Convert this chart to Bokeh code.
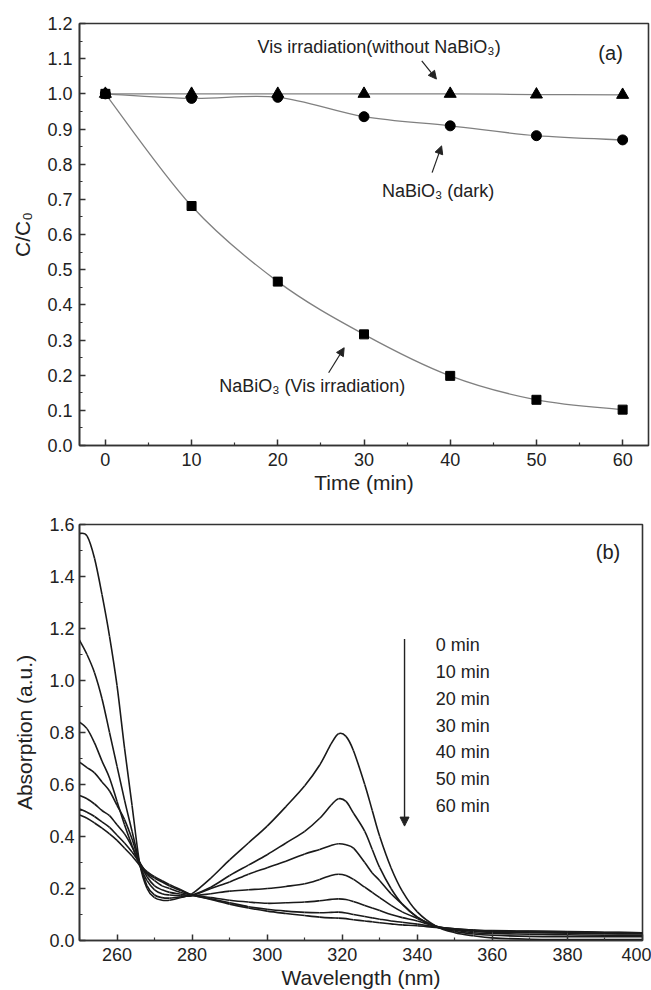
import numpy as np
from bokeh.plotting import figure
from bokeh.layouts import column
from bokeh.models import (FixedTicker, PrintfTickFormatter, Arrow,
                          NormalHead, Range1d)
from bokeh.core.properties import value
from bokeh.embed import file_html
from bokeh.resources import INLINE

# ---------------- data: panel (a) ----------------
time_min = [0, 10, 20, 30, 40, 50, 60]
vis_without_nabio3 = [1.0, 1.0, 1.0, 1.0, 1.0, 0.998, 0.997]
nabio3_dark = [1.0, 0.987, 0.99, 0.935, 0.909, 0.881, 0.869]
nabio3_vis = [1.0, 0.681, 0.466, 0.316, 0.198, 0.130, 0.102]
time_ticks = [0, 10, 20, 30, 40, 50, 60]
time_minor = [-5, 5, 15, 25, 35, 45, 55]
ratio_ticks = [0.0, 0.1, 0.2, 0.3, 0.4, 0.5, 0.6, 0.7, 0.8, 0.9, 1.0, 1.1, 1.2]
ratio_minor = [0.05, 0.15, 0.25, 0.35, 0.45, 0.55, 0.65, 0.75, 0.85, 0.95, 1.05, 1.15]

# ---------------- data: panel (b) ----------------
wavelength = [250, 252, 254, 256, 258, 260, 262, 264, 266, 268, 270, 272, 274,
              277, 280, 285, 290, 295, 300, 305, 310, 314, 317, 319, 321, 323,
              326, 328, 330, 333, 336, 340, 345, 350, 355, 360, 370, 380, 390, 400]
abs_0min = [1.566, 1.556, 1.47, 1.33, 1.17, 0.98, 0.74, 0.52, 0.30, 0.20, 0.165,
            0.155, 0.155, 0.165, 0.18, 0.24, 0.31, 0.375, 0.44, 0.515, 0.595,
            0.675, 0.755, 0.795, 0.785, 0.73, 0.60, 0.50, 0.40, 0.28, 0.19, 0.11,
            0.055, 0.03, 0.018, 0.01, 0.005, 0.004, 0.004, 0.004]
abs_10min = [1.155, 1.10, 1.03, 0.93, 0.80, 0.67, 0.54, 0.42, 0.30, 0.21, 0.175,
             0.165, 0.163, 0.168, 0.175, 0.205, 0.25, 0.29, 0.33, 0.375, 0.42,
             0.47, 0.52, 0.545, 0.535, 0.49, 0.42, 0.35, 0.28, 0.20, 0.14, 0.09,
             0.055, 0.035, 0.025, 0.02, 0.016, 0.015, 0.015, 0.015]
abs_20min = [0.84, 0.815, 0.76, 0.69, 0.625, 0.535, 0.445, 0.365, 0.29, 0.23,
             0.195, 0.18, 0.175, 0.172, 0.172, 0.20, 0.225, 0.255, 0.28, 0.305,
             0.333, 0.35, 0.365, 0.372, 0.368, 0.355, 0.30, 0.26, 0.23, 0.18,
             0.14, 0.09, 0.052, 0.04, 0.03, 0.027, 0.024, 0.022, 0.02, 0.02]
abs_30min = [0.686, 0.665, 0.645, 0.61, 0.575, 0.52, 0.465, 0.39, 0.30, 0.245,
             0.21, 0.195, 0.185, 0.178, 0.172, 0.18, 0.19, 0.195, 0.20, 0.208,
             0.218, 0.235, 0.25, 0.255, 0.25, 0.235, 0.205, 0.185, 0.165, 0.135,
             0.11, 0.085, 0.055, 0.042, 0.035, 0.032, 0.03, 0.028, 0.026, 0.025]
abs_40min = [0.558, 0.545, 0.525, 0.50, 0.48, 0.445, 0.41, 0.36, 0.30, 0.255,
             0.23, 0.21, 0.20, 0.185, 0.175, 0.165, 0.155, 0.148, 0.143, 0.145,
             0.148, 0.153, 0.158, 0.16, 0.158, 0.15, 0.135, 0.125, 0.115, 0.10,
             0.088, 0.075, 0.055, 0.044, 0.038, 0.035, 0.033, 0.031, 0.03, 0.028]
abs_50min = [0.506, 0.493, 0.477, 0.456, 0.435, 0.405, 0.375, 0.34, 0.30, 0.26,
             0.24, 0.225, 0.21, 0.192, 0.175, 0.16, 0.145, 0.13, 0.12, 0.113,
             0.108, 0.107, 0.108, 0.109, 0.106, 0.10, 0.092, 0.087, 0.082, 0.075,
             0.07, 0.063, 0.052, 0.045, 0.04, 0.037, 0.035, 0.033, 0.031, 0.03]
abs_60min = [0.483, 0.47, 0.452, 0.432, 0.41, 0.385, 0.355, 0.325, 0.29, 0.265,
             0.245, 0.23, 0.215, 0.195, 0.175, 0.158, 0.14, 0.125, 0.113, 0.104,
             0.096, 0.09, 0.087, 0.086, 0.084, 0.08, 0.075, 0.072, 0.068, 0.064,
             0.06, 0.057, 0.05, 0.045, 0.04, 0.038, 0.036, 0.034, 0.032, 0.03]
spectra = [abs_0min, abs_10min, abs_20min, abs_30min, abs_40min, abs_50min, abs_60min]
time_labels = ["0 min", "10 min", "20 min", "30 min", "40 min", "50 min", "60 min"]
wl_ticks = [260, 280, 300, 320, 340, 360, 380, 400]
wl_minor = [250, 270, 290, 310, 330, 350, 370, 390]
abs_ticks = [0.0, 0.2, 0.4, 0.6, 0.8, 1.0, 1.2, 1.4, 1.6]
abs_minor = [0.1, 0.3, 0.5, 0.7, 0.9, 1.1, 1.3, 1.5]

FONT = "Liberation Sans"
INK = "#222222"
AX = "#333333"


def style(p):
    p.background_fill_color = "white"
    p.border_fill_color = "white"
    p.outline_line_color = AX
    p.outline_line_width = 1.6
    p.grid.visible = False
    for ax in (p.xaxis[0], p.yaxis[0]):
        ax.axis_line_color = AX
        ax.axis_line_width = 1.6
        ax.major_tick_line_color = AX
        ax.minor_tick_line_color = AX
        ax.major_tick_line_width = 1.5
        ax.minor_tick_line_width = 1.2
        ax.major_tick_in = 6
        ax.major_tick_out = 0
        ax.minor_tick_in = 3
        ax.minor_tick_out = 0
        ax.major_label_text_font = FONT
        ax.major_label_text_font_size = "18px"
        ax.major_label_text_color = INK
        ax.axis_label_text_font = FONT
        ax.axis_label_text_font_size = "21px"
        ax.axis_label_text_font_style = "normal"
        ax.axis_label_text_color = INK


def catmull_bezier(xs, ys):
    n = len(xs)
    out = dict(x0=[], y0=[], x1=[], y1=[], cx0=[], cy0=[], cx1=[], cy1=[])
    for i in range(n - 1):
        a = i - 1 if i > 0 else i
        d = i + 2 if i + 2 < n else i + 1
        out["x0"].append(xs[i]); out["y0"].append(ys[i])
        out["x1"].append(xs[i + 1]); out["y1"].append(ys[i + 1])
        out["cx0"].append(xs[i] + (xs[i + 1] - xs[a]) / 6.0)
        out["cy0"].append(ys[i] + (ys[i + 1] - ys[a]) / 6.0)
        out["cx1"].append(xs[i + 1] - (xs[d] - xs[i]) / 6.0)
        out["cy1"].append(ys[i + 1] - (ys[d] - ys[i]) / 6.0)
    return out


# ---------------- panel (a) ----------------
p1 = figure(frame_width=569, frame_height=422,
            x_range=Range1d(-3, 63), y_range=Range1d(0, 1.2),
            output_backend="svg", toolbar_location=None,
            min_border_left=79, min_border_right=3, min_border_top=23,
            min_border_bottom=55)
style(p1)
p1.xaxis.ticker = FixedTicker(ticks=time_ticks, minor_ticks=time_minor)
p1.yaxis.ticker = FixedTicker(ticks=ratio_ticks, minor_ticks=ratio_minor)
p1.yaxis.formatter = PrintfTickFormatter(format="%.1f")
p1.xaxis.axis_label = "Time (min)"
p1.yaxis.axis_label = "C/C\u2080"
p1.xaxis.major_label_standoff = 7
p1.yaxis.major_label_standoff = 7
p1.xaxis.axis_label_standoff = 2
p1.yaxis.axis_label_standoff = 10

for series in (vis_without_nabio3, nabio3_dark, nabio3_vis):
    p1.bezier(line_color="#808080", line_width=1.3, **catmull_bezier(time_min, series))

p1.scatter(time_min, vis_without_nabio3, marker="triangle", size=12, color="black")
p1.scatter(time_min, nabio3_dark, marker="circle", size=10, color="black")
p1.scatter(time_min, nabio3_vis, marker="square", size=9, color="black")

txt_a = dict(text_font=value(FONT), text_font_size="18px", text_color=INK,
             text_align="center", text_baseline="middle")
p1.text(x=[31.75], y=[1.132], text=["Vis irradiation(without NaBiO\u2083)"], **txt_a)
p1.text(x=[38.6], y=[0.724], text=["NaBiO\u2083 (dark)"], **txt_a)
p1.text(x=[24.0], y=[0.169], text=["NaBiO\u2083 (Vis irradiation)"], **txt_a)
p1.text(x=[58.6], y=[1.117], text=["(a)"], text_font=value(FONT),
        text_font_size="20px", text_color=INK, text_align="center",
        text_baseline="middle")

for (xs, ys, xe, ye) in [(36.7, 1.094, 38.4, 1.042),
                         (37.9, 0.776, 39.0, 0.852),
                         (25.9, 0.207, 27.7, 0.278)]:
    p1.add_layout(Arrow(x_start=xs, y_start=ys, x_end=xe, y_end=ye,
                        line_color=INK, line_width=1.2,
                        end=NormalHead(size=8, fill_color=INK, line_color=INK)))

# ---------------- panel (b) ----------------
p2 = figure(frame_width=563, frame_height=416,
            x_range=Range1d(250, 400), y_range=Range1d(0, 1.6),
            output_backend="svg", toolbar_location=None,
            min_border_left=75, min_border_right=13, min_border_top=24,
            min_border_bottom=50)
style(p2)
p2.xaxis.ticker = FixedTicker(ticks=wl_ticks, minor_ticks=wl_minor)
p2.yaxis.ticker = FixedTicker(ticks=abs_ticks, minor_ticks=abs_minor)
p2.yaxis.formatter = PrintfTickFormatter(format="%.1f")
p2.xaxis.axis_label = "Wavelength (nm)"
p2.yaxis.axis_label = "Absorption (a.u.)"
p2.xaxis.major_label_standoff = 7
p2.yaxis.major_label_standoff = 5
p2.xaxis.axis_label_standoff = 2
p2.yaxis.axis_label_standoff = 10

for spec in spectra:
    p2.bezier(line_color="#1a1a1a", line_width=1.6, **catmull_bezier(wavelength, spec))

p2.add_layout(Arrow(x_start=336.6, y_start=1.16, x_end=336.6, y_end=0.44,
                    line_color=INK, line_width=1.4,
                    end=NormalHead(size=9, fill_color=INK, line_color=INK)))

label_y = [1.135 - i * 0.1027 for i in range(len(time_labels))]
p2.text(x=[344.9] * len(time_labels), y=label_y, text=time_labels,
        text_font=value(FONT), text_font_size="18px", text_color=INK,
        text_align="left", text_baseline="middle")
p2.text(x=[390.8], y=[1.494], text=["(b)"], text_font=value(FONT),
        text_font_size="20px", text_color=INK, text_align="center",
        text_baseline="middle")

layout = column(p1, p2, spacing=0)
open("out.html", "w").write(file_html(layout, INLINE))
